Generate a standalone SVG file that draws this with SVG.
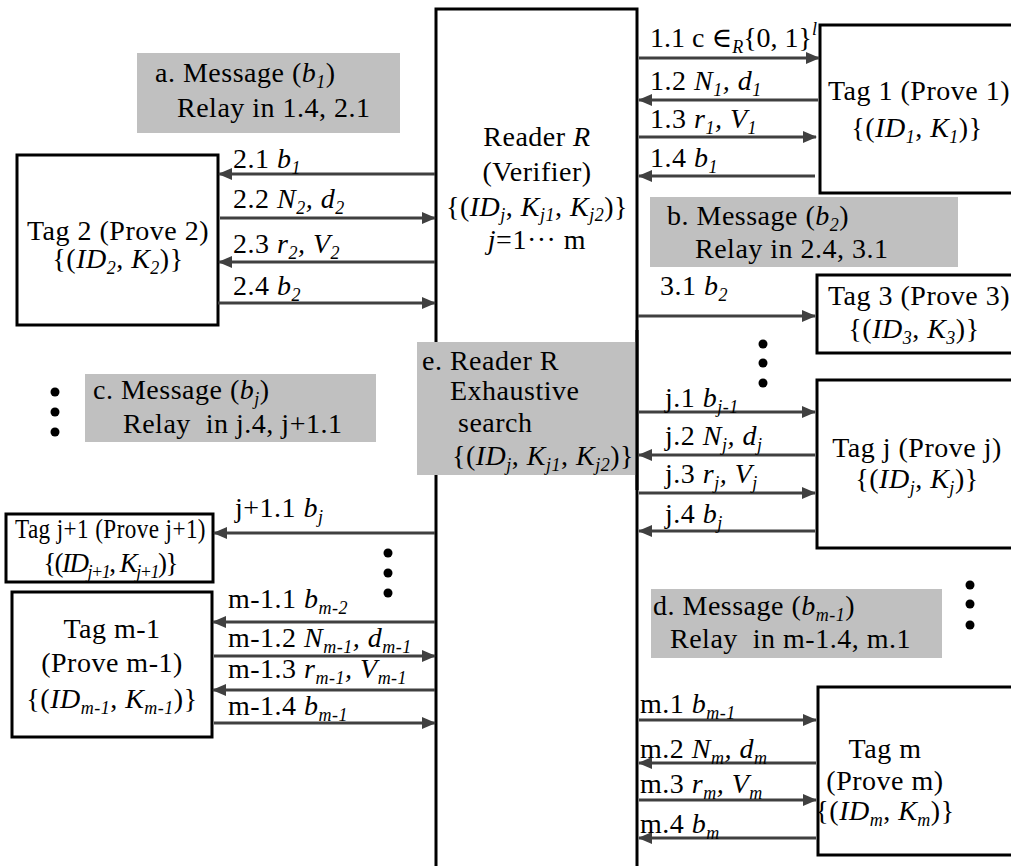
<svg xmlns="http://www.w3.org/2000/svg" width="1011" height="866" viewBox="0 0 1011 866">
<style>
text{font-family:"Liberation Serif","Times New Roman",Times,"DejaVu Serif",serif;font-size:28px;fill:#000;letter-spacing:0.5px}
.c{text-anchor:middle}
.i{font-style:italic}
.s{font-size:18px;font-style:italic}
.box{fill:#fff;stroke:#000;stroke-width:3}
.note{fill:#c0c0c0}
.ln{stroke:#404040;stroke-width:3;fill:none;marker-end:url(#ah)}
.dot{fill:#000}
</style>
<defs>
<marker id="ah" markerUnits="userSpaceOnUse" markerWidth="14" markerHeight="12" refX="13" refY="6" orient="auto"><path d="M0,0 L14,6 L0,12 z" fill="#404040"/></marker>
</defs>
<rect width="1011" height="866" fill="#fff"/>

<g id="reader">
<rect class="box" x="436" y="9" width="201" height="880"/>
<text class="c" x="537" y="146">Reader <tspan class="i">R</tspan></text>
<text class="c" x="537" y="181">(Verifier)</text>
<text class="c" x="537" y="216">{(<tspan class="i">ID</tspan><tspan class="s" dy="5">j</tspan><tspan dy="-5">, </tspan><tspan class="i">K</tspan><tspan class="s" dy="5">j1</tspan><tspan dy="-5">, </tspan><tspan class="i">K</tspan><tspan class="s" dy="5">j2</tspan><tspan dy="-5">)}</tspan></text>
<text class="c" x="537" y="249"><tspan class="i">j</tspan>=1··· m</text>
</g>

<g id="note-e">
<rect class="note" x="417" y="342" width="218.5" height="133"/>
<text x="422" y="370">e. Reader R</text>
<text x="450" y="400">Exhaustive</text>
<text x="458" y="432">search</text>
<text x="452" y="465">{(<tspan class="i">ID</tspan><tspan class="s" dy="6">j</tspan><tspan dy="-6">, </tspan><tspan class="i">K</tspan><tspan class="s" dy="6">j1</tspan><tspan dy="-6">, </tspan><tspan class="i">K</tspan><tspan class="s" dy="6">j2</tspan><tspan dy="-6">)}</tspan></text>
</g>
<line x1="637" y1="330" x2="637" y2="490" stroke="#000" stroke-width="3"/>

<g id="tag1">
<rect class="box" x="820" y="25" width="250" height="168"/>
<text class="c" x="919" y="100">Tag 1 (Prove 1)</text>
<text class="c" x="917" y="137">{(<tspan class="i">ID</tspan><tspan class="s" dy="6">1</tspan><tspan dy="-6">, </tspan><tspan class="i">K</tspan><tspan class="s" dy="6">1</tspan><tspan dy="-6">)}</tspan></text>
</g>

<g id="tag2">
<rect class="box" x="17" y="155" width="201" height="170"/>
<text class="c" x="118" y="240">Tag 2 (Prove 2)</text>
<text class="c" x="118" y="268">{(<tspan class="i">ID</tspan><tspan class="s" dy="6">2</tspan><tspan dy="-6">, </tspan><tspan class="i">K</tspan><tspan class="s" dy="6">2</tspan><tspan dy="-6">)}</tspan></text>
</g>

<g id="tag3">
<rect class="box" x="817" y="275" width="250" height="78"/>
<text class="c" x="919" y="305">Tag 3 (Prove 3)</text>
<text class="c" x="914" y="338">{(<tspan class="i">ID</tspan><tspan class="s" dy="6">3</tspan><tspan dy="-6">, </tspan><tspan class="i">K</tspan><tspan class="s" dy="6">3</tspan><tspan dy="-6">)}</tspan></text>
</g>

<g id="tagj">
<rect class="box" x="817" y="380" width="250" height="168"/>
<text class="c" x="917" y="457">Tag j (Prove j)</text>
<text class="c" x="917" y="488">{(<tspan class="i">ID</tspan><tspan class="s" dy="6">j</tspan><tspan dy="-6">, </tspan><tspan class="i">K</tspan><tspan class="s" dy="6">j</tspan><tspan dy="-6">)}</tspan></text>
</g>

<g id="tagj1">
<rect class="box" x="6" y="514" width="207" height="68"/>
<text x="15" y="538" textLength="191" lengthAdjust="spacingAndGlyphs">Tag j+1 (Prove j+1)</text>
<text class="c" x="110" y="572" style="font-size:27px;letter-spacing:-1.5px">{(<tspan class="i">ID</tspan><tspan class="s" dy="6">j+1</tspan><tspan dy="-6">, </tspan><tspan class="i">K</tspan><tspan class="s" dy="6">j+1</tspan><tspan dy="-6">)}</tspan></text>
</g>

<g id="tagm1">
<rect class="box" x="12" y="592" width="200" height="145"/>
<text class="c" x="112" y="638">Tag m-1</text>
<text class="c" x="112" y="672">(Prove m-1)</text>
<text class="c" x="112" y="708">{(<tspan class="i">ID</tspan><tspan class="s" dy="6">m-1</tspan><tspan dy="-6">, </tspan><tspan class="i">K</tspan><tspan class="s" dy="6">m-1</tspan><tspan dy="-6">)}</tspan></text>
</g>

<g id="tagm">
<rect class="box" x="818" y="687" width="250" height="168"/>
<text class="c" x="885" y="758">Tag m</text>
<text class="c" x="885" y="790">(Prove m)</text>
<text class="c" x="885" y="820">{(<tspan class="i">ID</tspan><tspan class="s" dy="6">m</tspan><tspan dy="-6">, </tspan><tspan class="i">K</tspan><tspan class="s" dy="6">m</tspan><tspan dy="-6">)}</tspan></text>
</g>

<g id="note-a">
<rect class="note" x="137" y="53" width="263" height="80"/>
<text x="155" y="82">a. Message (<tspan class="i">b</tspan><tspan class="s" dy="6">1</tspan><tspan dy="-6">)</tspan></text>
<text x="177" y="117">Relay in 1.4, 2.1</text>
</g>

<g id="note-b">
<rect class="note" x="650" y="197" width="308" height="70"/>
<text x="667" y="225">b. Message (<tspan class="i">b</tspan><tspan class="s" dy="6">2</tspan><tspan dy="-6">)</tspan></text>
<text x="695" y="258">Relay in 2.4, 3.1</text>
</g>

<g id="note-c">
<rect class="note" x="85" y="374" width="291" height="68"/>
<text x="93" y="399">c. Message (<tspan class="i">b</tspan><tspan class="s" dy="6">j</tspan><tspan dy="-6">)</tspan></text>
<text x="123" y="433" xml:space="preserve">Relay  in j.4, j+1.1</text>
</g>

<g id="note-d">
<rect class="note" x="651" y="589" width="291" height="69"/>
<text x="653" y="615">d. Message (<tspan class="i">b</tspan><tspan class="s" dy="6">m-1</tspan><tspan dy="-6">)</tspan></text>
<text x="670" y="648" xml:space="preserve">Relay  in m-1.4, m.1</text>
</g>

<g id="ellipses">
<circle class="dot" cx="55" cy="392" r="4.5"/><circle class="dot" cx="55" cy="412" r="4.5"/><circle class="dot" cx="55" cy="432" r="4.5"/>
<circle class="dot" cx="388" cy="553" r="4.5"/><circle class="dot" cx="388" cy="573" r="4.5"/><circle class="dot" cx="388" cy="593" r="4.5"/>
<circle class="dot" cx="763" cy="344" r="4.5"/><circle class="dot" cx="763" cy="363" r="4.5"/><circle class="dot" cx="763" cy="383" r="4.5"/>
<circle class="dot" cx="970" cy="585" r="4.5"/><circle class="dot" cx="970" cy="604" r="4.5"/><circle class="dot" cx="970" cy="625" r="4.5"/>
</g>

<g id="connectors">
<line class="ln" x1="639" y1="58" x2="819" y2="58"/>
<line class="ln" x1="818" y1="100" x2="639" y2="100"/>
<line class="ln" x1="639" y1="137" x2="816" y2="137"/>
<line class="ln" x1="815" y1="176" x2="639" y2="176"/>
<line class="ln" x1="435" y1="174" x2="219" y2="174"/>
<line class="ln" x1="220" y1="218" x2="435" y2="218"/>
<line class="ln" x1="435" y1="262" x2="219" y2="262"/>
<line class="ln" x1="218" y1="303" x2="435" y2="303"/>
<line class="ln" x1="638" y1="316" x2="815" y2="316"/>
<line class="ln" x1="639" y1="412" x2="815" y2="412"/>
<line class="ln" x1="815" y1="455" x2="639" y2="455"/>
<line class="ln" x1="639" y1="493" x2="815" y2="493"/>
<line class="ln" x1="815" y1="531" x2="639" y2="531"/>
<line class="ln" x1="435" y1="533" x2="214" y2="533"/>
<line class="ln" x1="435" y1="622" x2="213" y2="622"/>
<line class="ln" x1="214" y1="656" x2="435" y2="656"/>
<line class="ln" x1="435" y1="690" x2="213" y2="690"/>
<line class="ln" x1="214" y1="723" x2="435" y2="723"/>
<line class="ln" x1="639" y1="720" x2="816" y2="720"/>
<line class="ln" x1="816" y1="763" x2="639" y2="763"/>
<line class="ln" x1="639" y1="800" x2="816" y2="800"/>
<line class="ln" x1="816" y1="838" x2="639" y2="838"/>

<text x="650" y="47" style="letter-spacing:0">1.1 c ∈<tspan class="s" dy="6">R</tspan><tspan dy="-6">{0, 1}</tspan><tspan class="s" dy="-12">l</tspan></text>
<text x="650" y="90">1.2 <tspan class="i">N</tspan><tspan class="s" dy="6">1</tspan><tspan class="i" dy="-6">, d</tspan><tspan class="s" dy="6">1</tspan></text>
<text x="650" y="128">1.3 <tspan class="i">r</tspan><tspan class="s" dy="6">1</tspan><tspan class="i" dy="-6">, V</tspan><tspan class="s" dy="6">1</tspan></text>
<text x="650" y="167">1.4 <tspan class="i">b</tspan><tspan class="s" dy="6">1</tspan></text>

<text x="233" y="168">2.1 <tspan class="i">b</tspan><tspan class="s" dy="6">1</tspan></text>
<text x="233" y="208">2.2 <tspan class="i">N</tspan><tspan class="s" dy="6">2</tspan><tspan class="i" dy="-6">, d</tspan><tspan class="s" dy="6">2</tspan></text>
<text x="233" y="253">2.3 <tspan class="i">r</tspan><tspan class="s" dy="6">2</tspan><tspan class="i" dy="-6">, V</tspan><tspan class="s" dy="6">2</tspan></text>
<text x="233" y="295">2.4 <tspan class="i">b</tspan><tspan class="s" dy="6">2</tspan></text>

<text x="660" y="295">3.1 <tspan class="i">b</tspan><tspan class="s" dy="6">2</tspan></text>

<text x="665" y="407">j.1 <tspan class="i">b</tspan><tspan class="s" dy="6">j-1</tspan></text>
<text x="665" y="445">j.2 <tspan class="i">N</tspan><tspan class="s" dy="6">j</tspan><tspan class="i" dy="-6">, d</tspan><tspan class="s" dy="6">j</tspan></text>
<text x="665" y="483">j.3 <tspan class="i">r</tspan><tspan class="s" dy="6">j</tspan><tspan class="i" dy="-6">, V</tspan><tspan class="s" dy="6">j</tspan></text>
<text x="665" y="523">j.4 <tspan class="i">b</tspan><tspan class="s" dy="6">j</tspan></text>

<text x="235" y="517">j+1.1 <tspan class="i">b</tspan><tspan class="s" dy="6">j</tspan></text>

<text x="228" y="608">m-1.1 <tspan class="i">b</tspan><tspan class="s" dy="6">m-2</tspan></text>
<text x="228" y="647">m-1.2 <tspan class="i">N</tspan><tspan class="s" dy="6">m-1</tspan><tspan class="i" dy="-6">, d</tspan><tspan class="s" dy="6">m-1</tspan></text>
<text x="228" y="678">m-1.3 <tspan class="i">r</tspan><tspan class="s" dy="6">m-1</tspan><tspan class="i" dy="-6">, V</tspan><tspan class="s" dy="6">m-1</tspan></text>
<text x="228" y="715">m-1.4 <tspan class="i">b</tspan><tspan class="s" dy="6">m-1</tspan></text>

<text x="640" y="713">m.1 <tspan class="i">b</tspan><tspan class="s" dy="6">m-1</tspan></text>
<text x="640" y="758">m.2 <tspan class="i">N</tspan><tspan class="s" dy="6">m</tspan><tspan class="i" dy="-6">, d</tspan><tspan class="s" dy="6">m</tspan></text>
<text x="640" y="793">m.3 <tspan class="i">r</tspan><tspan class="s" dy="6">m</tspan><tspan class="i" dy="-6">, V</tspan><tspan class="s" dy="6">m</tspan></text>
<text x="640" y="833">m.4 <tspan class="i">b</tspan><tspan class="s" dy="6">m</tspan></text>
</g>
</svg>
